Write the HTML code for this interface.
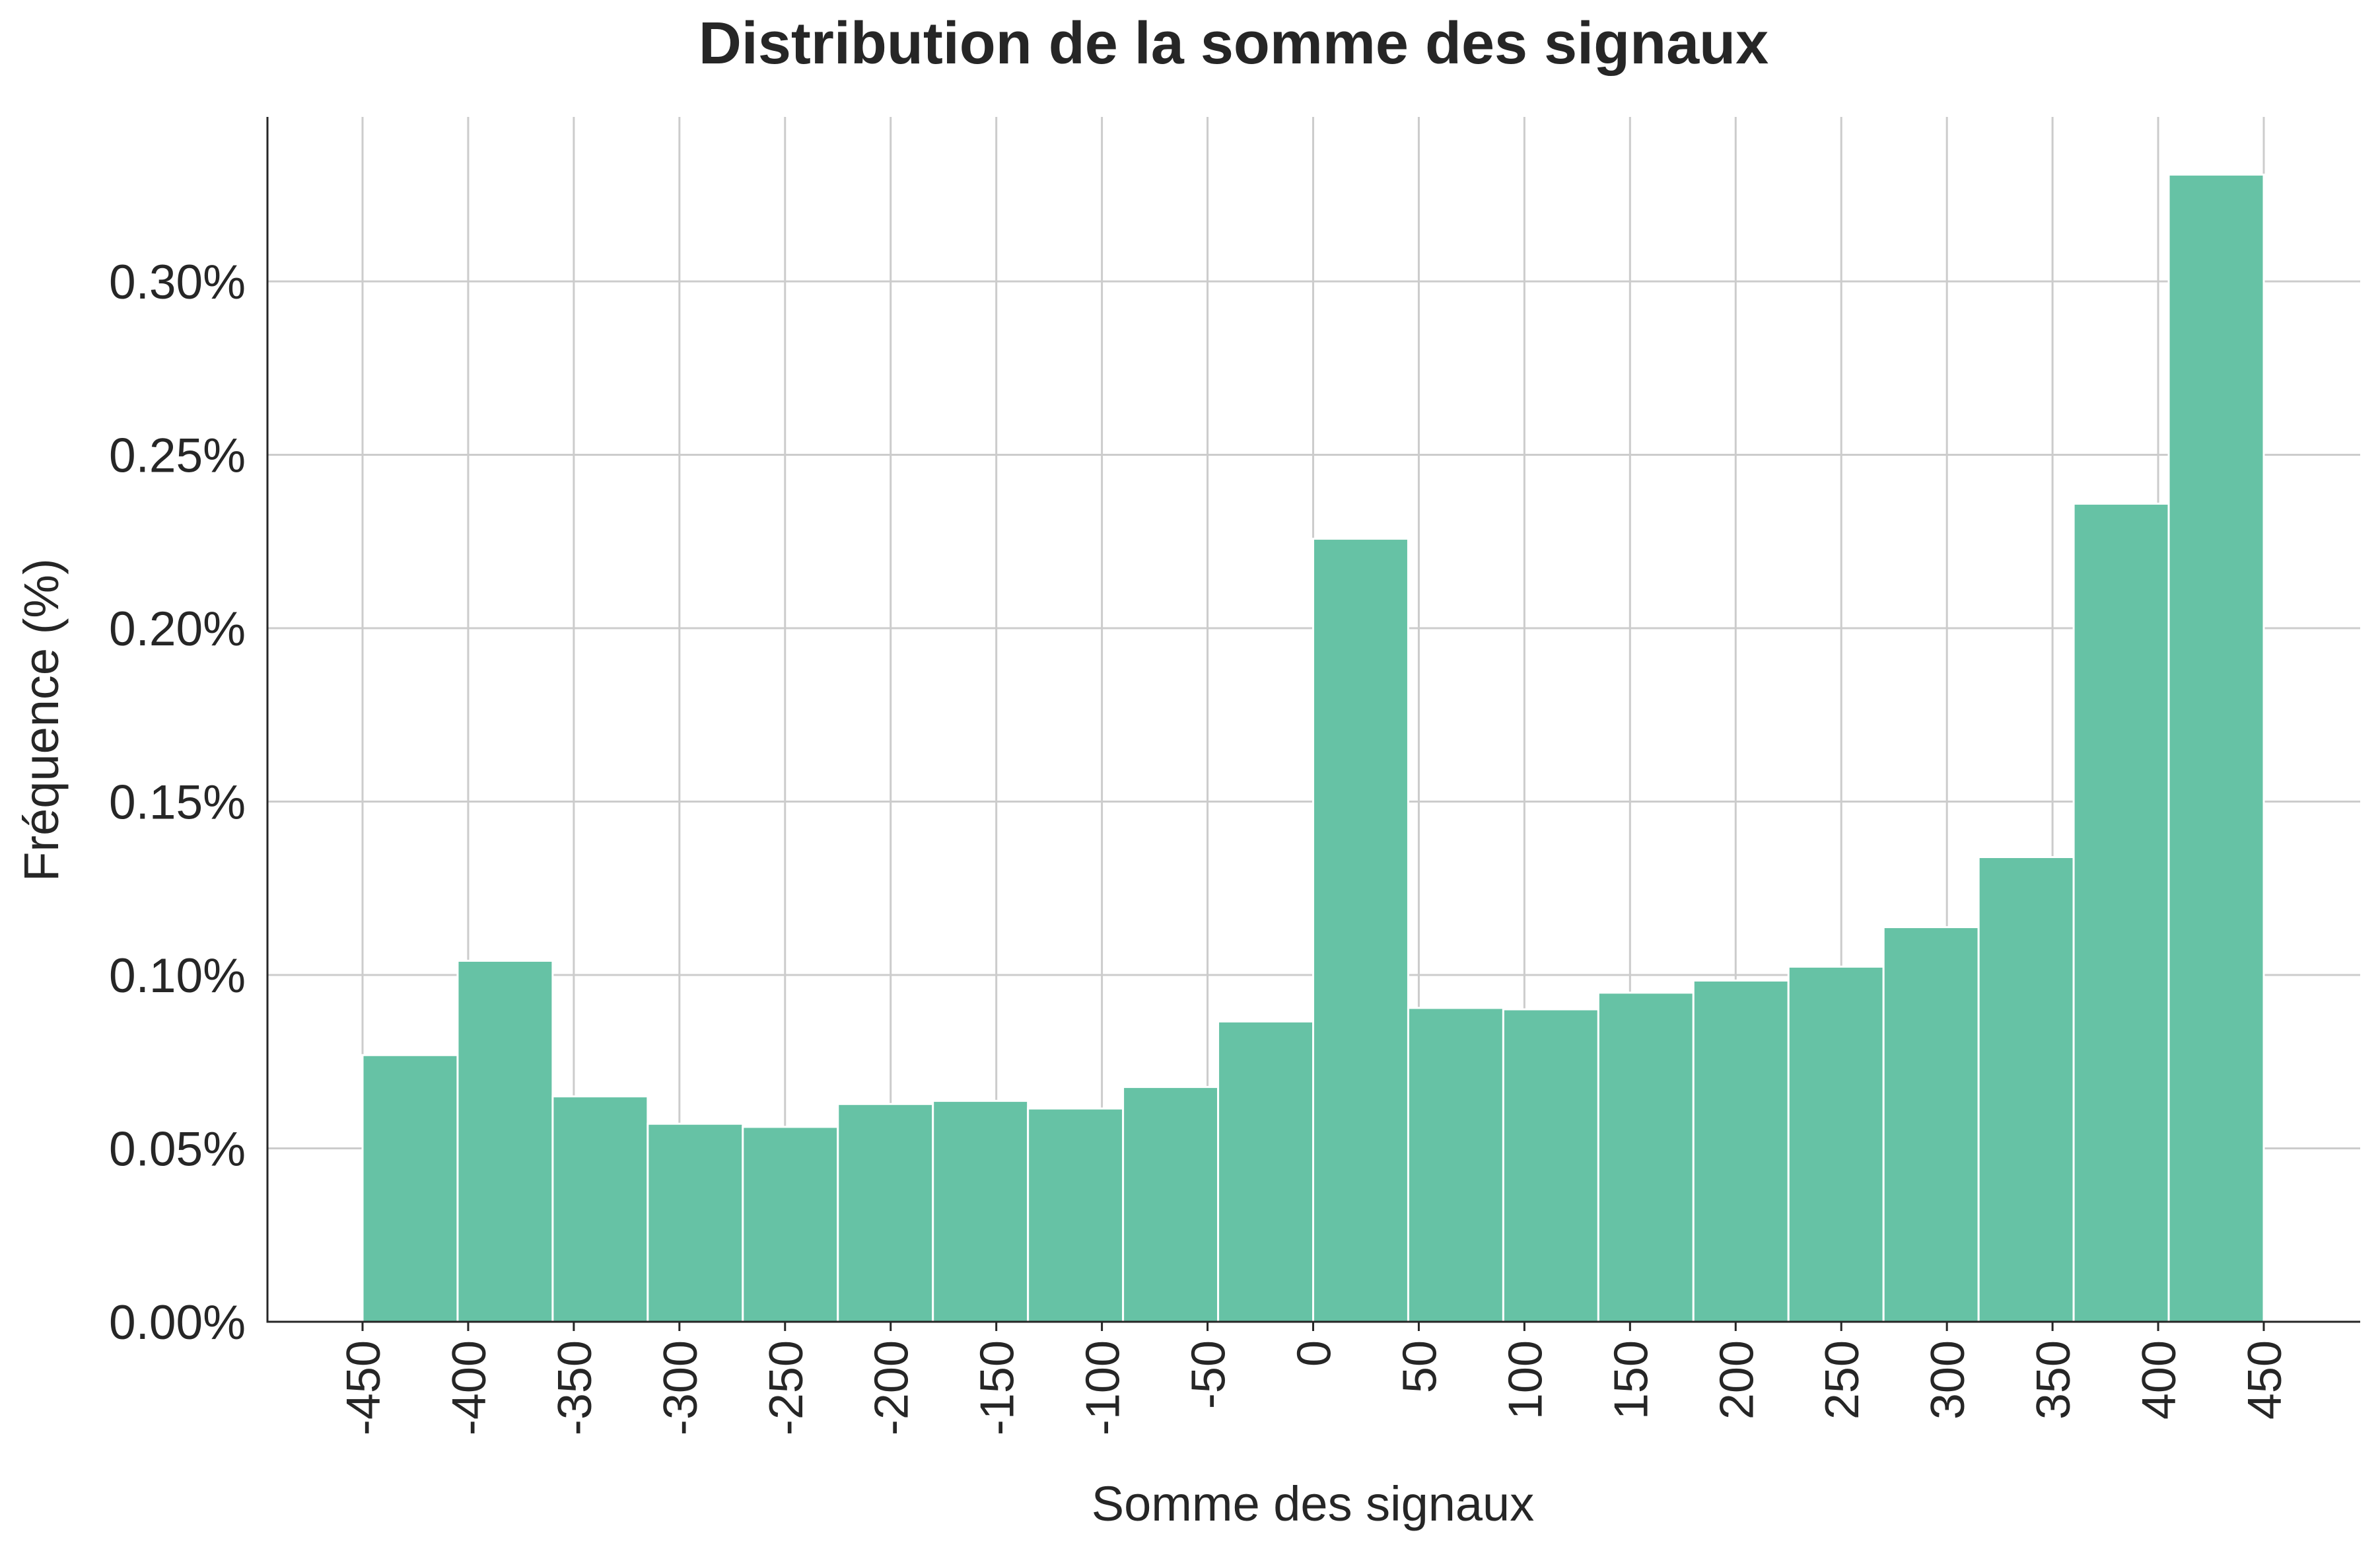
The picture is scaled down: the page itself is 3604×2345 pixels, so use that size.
<!DOCTYPE html>
<html><head><meta charset="utf-8"><style>
html,body{margin:0;padding:0;background:#fff;}
svg text{font-family:"Liberation Sans",Arial,sans-serif;fill:#262626;}
</style></head><body>
<svg id="chart" width="3604" height="2340" viewBox="0 0 3604 2340" xmlns="http://www.w3.org/2000/svg">
<text x="1868" y="96" font-size="90" font-weight="bold" text-anchor="middle">Distribution de la somme des signaux</text>
<text x="1988" y="2302" font-size="74" text-anchor="middle">Somme des signaux</text>
<text transform="translate(88,1090) rotate(-90)" font-size="74" text-anchor="middle">Fréquence (%)</text>
<g id="grid"></g><g id="bars"></g><g id="axes"></g>
</svg>
<script>
const binStart = -450;
const binWidth = 45;
const freqValues = [0.0769,0.1041,0.0650,0.0571,0.0562,0.0628,0.0637,0.0615,0.0677,0.0866,0.2258,0.0905,0.0901,0.0949,0.0984,0.1024,0.1138,0.1340,0.2359,0.3308];
const xTicks = [-450,-400,-350,-300,-250,-200,-150,-100,-50,0,50,100,150,200,250,300,350,400,450];
const yTicks = [0,0.05,0.10,0.15,0.20,0.25,0.30];
const yTickLabels = ["0.00%","0.05%","0.10%","0.15%","0.20%","0.25%","0.30%"];

const NS="http://www.w3.org/2000/svg";
const L=405,R=3574,T=177,B=2001;
function xs(v){return 549+(v+450)*(3428-549)/900;}
function ys(v){return 2001-v*(2001-426)/0.30;}
function mk(tag,attrs,parent){const e=document.createElementNS(NS,tag);for(const k in attrs)e.setAttribute(k,attrs[k]);parent.appendChild(e);return e;}
const grid=document.getElementById('grid'),bars=document.getElementById('bars'),axes=document.getElementById('axes');
xTicks.forEach(t=>{
  const g=mk('line',{x1:xs(t),x2:xs(t),y1:T,y2:B,stroke:'#cccccc','stroke-width':3},grid);
  
  
  const tk=mk('line',{x1:xs(t),x2:xs(t),y1:B,y2:B+14,stroke:'#262626','stroke-width':3},axes);
  
  
  const tx=mk('text',{transform:`translate(${xs(t)+26},${B+28}) rotate(-90)`,'font-size':72,'text-anchor':'end'},axes);
  tx.textContent=String(t);
  
  
});
yTicks.forEach((t,i)=>{
  const g=mk('line',{x1:L,x2:R,y1:ys(t),y2:ys(t),stroke:'#cccccc','stroke-width':3},grid);
  
  
  const tx=mk('text',{x:372,y:ys(t)+26,'font-size':73,'text-anchor':'end'},axes);
  tx.textContent=yTickLabels[i];
  
  
});
freqValues.forEach((v,i)=>{
  const x0=xs(binStart+i*binWidth),x1=xs(binStart+(i+1)*binWidth);
  const r=mk('rect',{x:x0,y:ys(v),width:x1-x0,height:ys(0)-ys(v),fill:'#66c2a5',stroke:'#ffffff','stroke-width':3},bars);
  
  
});
const ya=mk('line',{x1:L,x2:L,y1:T,y2:B+1.5,stroke:'#262626','stroke-width':3},axes);


const xa=mk('line',{x1:L,x2:R,y1:B,y2:B,stroke:'#262626','stroke-width':3},axes);


</script>
</body></html>
